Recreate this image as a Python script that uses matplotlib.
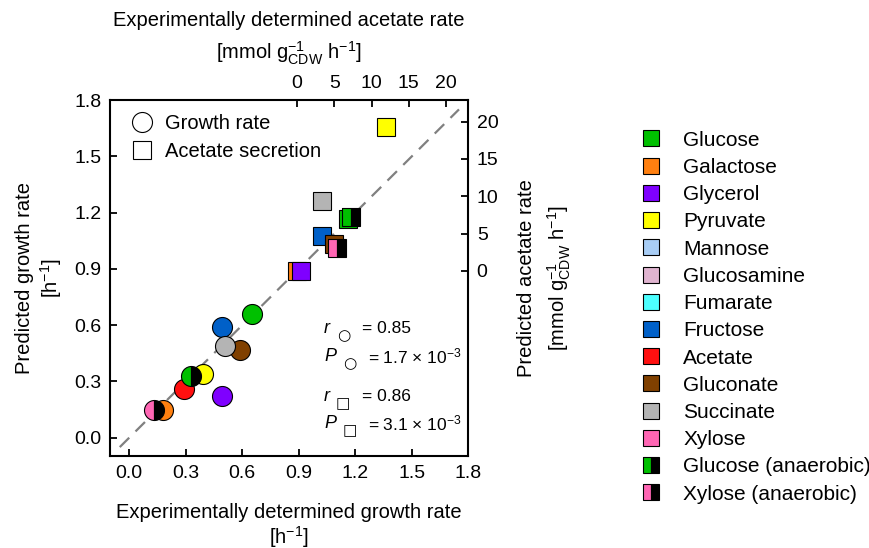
import numpy as np
import matplotlib.pyplot as plt
from matplotlib.lines import Line2D

plt.rcParams['font.family'] = ['Liberation Sans', 'DejaVu Sans']
plt.rcParams['mathtext.fontset'] = 'custom'
plt.rcParams['mathtext.rm'] = 'Liberation Sans'
plt.rcParams['mathtext.it'] = 'Liberation Sans:italic'

nan = np.nan

substrates = ['Glucose', 'Galactose', 'Glycerol', 'Pyruvate', 'Mannose',
              'Glucosamine', 'Fumarate', 'Fructose', 'Acetate', 'Gluconate',
              'Succinate', 'Xylose', 'Glucose (anaerobic)', 'Xylose (anaerobic)']
colors = ['#00c000', '#ff8010', '#7f00ff', '#ffff00', '#a8cdf5',
          '#e0b4d0', '#4dffff', '#0060c8', '#ff1010', '#804000',
          '#b4b4b4', '#ff66b4', '#00c000', '#ff66b4']
# anaerobic runs are drawn half colour / half black
anaerobic = [False] * 12 + [True, True]

# growth rates [1/h]
growth_exp = [0.65, 0.18, 0.49, 0.39, nan, nan, nan, 0.49, 0.29, 0.59, 0.51, nan, 0.33, 0.13]
growth_pred = [0.66, 0.15, 0.22, 0.34, nan, nan, nan, 0.59, 0.26, 0.47, 0.49, nan, 0.33, 0.15]

# acetate secretion rates [mmol/gCDW/h]
acetate_exp = [6.8, 0.0, 0.6, 11.9, nan, nan, nan, 3.3, nan, 4.9, 3.3, nan, 7.3, 5.4]
acetate_pred = [6.9, 0.0, 0.0, 19.3, nan, nan, nan, 4.65, nan, 3.6, 9.3, nan, 7.15, 3.1]

diag = [-0.05, 1.75]

# correlation statistics: (name, symbol, text, x name, x symbol, x text, y)
stats = [
    ('r', '○', '= 0.85', 0.6045, 0.651, 0.702, 0.360),
    ('P', '○', '= 1.7 × 10$^{-3}$', 0.614, 0.668, 0.721, 0.280),
    ('r', '□', '= 0.86', 0.6045, 0.651, 0.702, 0.168),
    ('P', '□', '= 3.1 × 10$^{-3}$', 0.614, 0.668, 0.721, 0.093),
]

FS = 14.5
MS_CIRCLE = 14.4
MS_SQUARE = 12.6

fig = plt.figure(figsize=(8.7, 5.48), dpi=100)
rect = [0.1264, 0.167, 0.412, 0.6505]
ax = fig.add_axes(rect)
ax_ac = fig.add_axes(rect, frameon=False)

ax.plot(diag, diag, color='#808080', lw=1.6, dashes=(6, 4), zorder=1)

for i in range(len(substrates)):
    style = dict(ls='none', mfc=colors[i], mec='k', mew=0.8,
                 fillstyle='left' if anaerobic[i] else 'full',
                 markerfacecoloralt='k')
    ax.plot([growth_exp[i]], [growth_pred[i]], marker='o', ms=MS_CIRCLE, **style)
    ax_ac.plot([acetate_exp[i]], [acetate_pred[i]], marker='s', ms=MS_SQUARE, **style)

ax.set_xlim(-0.102, 1.8)
ax.set_ylim(-0.1, 1.8)
ax.set_xticks(np.arange(0, 1.81, 0.3))
ax.set_yticks(np.arange(0, 1.81, 0.3))
ax.xaxis.set_major_formatter('{x:.1f}')
ax.yaxis.set_major_formatter('{x:.1f}')
ax.tick_params(direction='in', length=5, width=1.3, labelsize=14, pad=6,
               top=False, right=False)
for s in ax.spines.values():
    s.set_linewidth(1.5)

ax_ac.set_xlim(-25.1, 23.0)
ax_ac.set_ylim(-24.9, 22.9)
ax_ac.set_xticks(np.arange(0, 21, 5))
ax_ac.set_yticks(np.arange(0, 21, 5))
ax_ac.xaxis.tick_top()
ax_ac.yaxis.tick_right()
ax_ac.tick_params(direction='in', length=5, width=1.3, labelsize=14, pad=6)
ax_ac.xaxis.set_label_position('top')
ax_ac.yaxis.set_label_position('right')

ax.set_xlabel('Experimentally determined growth rate\n[h$^{-1}$]',
              fontsize=FS, linespacing=1.1, labelpad=15)
ax.set_ylabel('Predicted growth rate\n[h$^{-1}$]', fontsize=FS,
              linespacing=1.2, labelpad=7.6)
ax_ac.set_xlabel('Experimentally determined acetate rate\n'
                 '[mmol g$_{\\mathrm{CDW}}^{-1}$ h$^{-1}$]',
                 fontsize=FS, linespacing=1.5, labelpad=11.2)
ax_ac.set_ylabel('Predicted acetate rate\n'
                 '[mmol g$_{\\mathrm{CDW}}^{-1}$ h$^{-1}$]',
                 fontsize=FS, linespacing=1.5, rotation=90, labelpad=13.4)

# marker-type legend inside the axes
kind_handles = [
    Line2D([], [], ls='none', marker='o', ms=MS_CIRCLE, mfc='white', mec='k', mew=0.8),
    Line2D([], [], ls='none', marker='s', ms=MS_SQUARE, mfc='white', mec='k', mew=0.8),
]
ax_ac.legend(kind_handles, ['Growth rate', 'Acetate secretion'],
             loc='upper left', bbox_to_anchor=(0.061, 0.962), frameon=False,
             fontsize=FS, handlelength=1.0, handletextpad=0.64,
             borderaxespad=0, borderpad=0, labelspacing=0.45)

for name, sym, txt, xn, xs, xt, y in stats:
    ax_ac.text(xn, y, name, transform=ax_ac.transAxes, fontsize=13,
               style='italic', ha='center', va='center')
    ax_ac.text(xs, y - 0.02, sym, transform=ax_ac.transAxes, fontsize=11,
               family=['DejaVu Sans'], ha='center', va='center')
    ax_ac.text(xt, y, txt, transform=ax_ac.transAxes, fontsize=12.5,
               ha='left', va='center')

# substrate legend
sub_handles = [
    Line2D([], [], ls='none', marker='s', ms=12, mfc=c, mec='k', mew=0.8,
           fillstyle='left' if an else 'full', markerfacecoloralt='k')
    for c, an in zip(colors, anaerobic)
]
fig.legend(sub_handles, substrates, loc='upper left',
           bbox_to_anchor=(0.7363, 0.7615), frameon=False, fontsize=15,
           handlelength=1.0, handletextpad=1.04, borderaxespad=0,
           borderpad=0, labelspacing=0.395)

fig.savefig('out.png', dpi=100)
